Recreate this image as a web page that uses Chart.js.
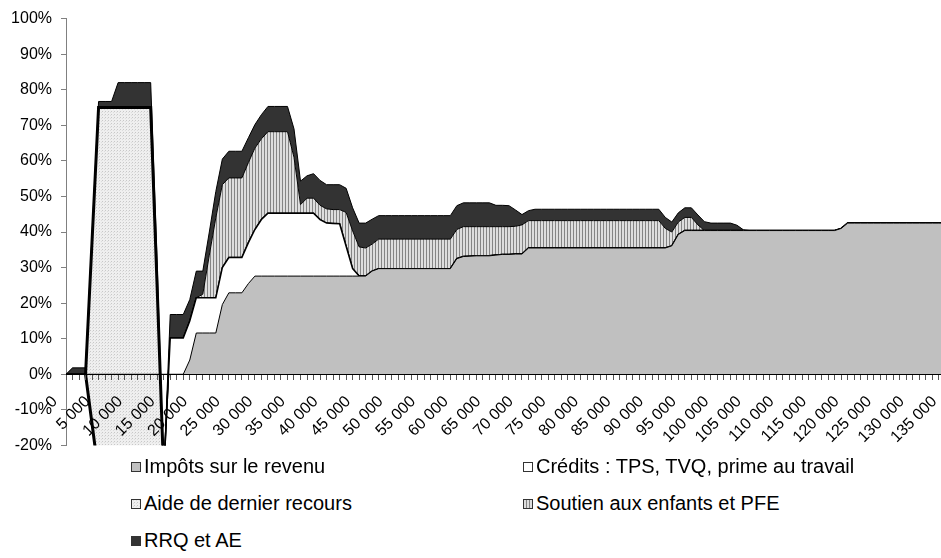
<!DOCTYPE html>
<html lang="fr">
<head>
<meta charset="utf-8">
<title>Taux marginaux effectifs selon le revenu</title>
<script src="https://cdn.jsdelivr.net/npm/chart.js"></script>
<style>
    html, body { margin: 0; padding: 0; background: #fff; }
    body {
        width: 941px; height: 558px; overflow: hidden; position: relative;
        font-family: "Liberation Sans", Arial, sans-serif;
    }
    #zone { position: absolute; left: 0; top: 0; width: 972px; height: 464px; }
    .leg {
        position: absolute; height: 20px; line-height: 20px; font-size: 20px;
        color: #000; white-space: nowrap; display: flex; align-items: center;
    }
    .leg canvas { width: 10px; height: 10px; margin-right: 3px; margin-top: 2px; display: block; }
</style>
</head>
<body>
<div id="zone"><canvas id="tauxChart" width="972" height="464"></canvas></div>
<div id="legende"></div>

<script>
// Revenu de travail (catégories, pas de 1 000 $)
const revenus = [
    0, 1000, 2000, 3000, 4000, 5000, 6000, 7000, 8000, 9000,
    10000, 11000, 12000, 13000, 14000, 15000, 16000, 17000, 18000, 19000,
    20000, 21000, 22000, 23000, 24000, 25000, 26000, 27000, 28000, 29000,
    30000, 31000, 32000, 33000, 34000, 35000, 36000, 37000, 38000, 39000,
    40000, 41000, 42000, 43000, 44000, 45000, 46000, 47000, 48000, 49000,
    50000, 51000, 52000, 53000, 54000, 55000, 56000, 57000, 58000, 59000,
    60000, 61000, 62000, 63000, 64000, 65000, 66000, 67000, 68000, 69000,
    70000, 71000, 72000, 73000, 74000, 75000, 76000, 77000, 78000, 79000,
    80000, 81000, 82000, 83000, 84000, 85000, 86000, 87000, 88000, 89000,
    90000, 91000, 92000, 93000, 94000, 95000, 96000, 97000, 98000, 99000,
    100000, 101000, 102000, 103000, 104000, 105000, 106000, 107000, 108000, 109000,
    110000, 111000, 112000, 113000, 114000, 115000, 116000, 117000, 118000, 119000,
    120000, 121000, 122000, 123000, 124000, 125000, 126000, 127000, 128000, 129000,
    130000, 131000, 132000, 133000, 134000, 135000,
];

// Taux marginaux (%) par composante
const impots = [
    0, 0, 0, 0, 0, 0, 0, 0, 0, 0,
    0, 0, 0, 0, 0, 0, 0, 0, 0, 4,
    11.6, 11.6, 11.6, 11.6, 19.6, 22.9, 22.9, 22.9, 25.5, 27.6,
    27.6, 27.6, 27.6, 27.6, 27.6, 27.6, 27.6, 27.6, 27.6, 27.6,
    27.6, 27.6, 27.6, 27.6, 27.6, 27.6, 27.6, 29, 29.7, 29.7,
    29.7, 29.7, 29.7, 29.7, 29.7, 29.7, 29.7, 29.7, 29.7, 29.7,
    32.5, 33.1, 33.2, 33.3, 33.3, 33.3, 33.5, 33.7, 33.7, 33.8,
    33.8, 35.5, 35.5, 35.5, 35.5, 35.5, 35.5, 35.5, 35.5, 35.5,
    35.5, 35.5, 35.5, 35.5, 35.5, 35.5, 35.5, 35.5, 35.5, 35.5,
    35.5, 35.5, 35.5, 36.1, 39.3, 40.4, 40.4, 40.4, 40.4, 40.4,
    40.4, 40.4, 40.4, 40.4, 40.4, 40.4, 40.4, 40.4, 40.4, 40.4,
    40.4, 40.4, 40.4, 40.4, 40.4, 40.4, 40.4, 40.4, 40.4, 41,
    42.5, 42.5, 42.5, 42.5, 42.5, 42.5, 42.5, 42.5, 42.5, 42.5,
    42.5, 42.5, 42.5, 42.5, 42.5, 42.5,
];

const credits = [
    0, 0, 0, 0, -14, -28, -28, -28, -28, -28,
    -28, -28, -28, -28, -28, -28, 10.2, 10.2, 10.2, 11,
    9.9, 9.9, 9.9, 9.9, 10.4, 9.9, 9.9, 9.9, 11.5, 13.1,
    15.9, 17.7, 17.7, 17.7, 17.7, 17.7, 17.7, 17.7, 17.7, 15.9,
    14.9, 14.8, 14.7, 8.4, 2.1, 0, 0, 0, 0, 0,
    0, 0, 0, 0, 0, 0, 0, 0, 0, 0,
    0, 0, 0, 0, 0, 0, 0, 0, 0, 0,
    0, 0, 0, 0, 0, 0, 0, 0, 0, 0,
    0, 0, 0, 0, 0, 0, 0, 0, 0, 0,
    0, 0, 0, 0, 0, 0, 0, 0, 0, 0,
    0, 0, 0, 0, 0, 0, 0, 0, 0, 0,
    0, 0, 0, 0, 0, 0, 0, 0, 0, 0,
    0, 0, 0, 0, 0, 0, 0, 0, 0, 0,
    0, 0, 0, 0, 0, 0,
];

const aide = [
    0, 0, 0, 0, 51.5, 103, 103, 103, 103, 103,
    103, 103, 103, 103, 52, 0, 0, 0, 0, 0,
    0, 0, 0, 0, 0, 0, 0, 0, 0, 0,
    0, 0, 0, 0, 0, 0, 0, 0, 0, 0,
    0, 0, 0, 0, 0, 0, 0, 0, 0, 0,
    0, 0, 0, 0, 0, 0, 0, 0, 0, 0,
    0, 0, 0, 0, 0, 0, 0, 0, 0, 0,
    0, 0, 0, 0, 0, 0, 0, 0, 0, 0,
    0, 0, 0, 0, 0, 0, 0, 0, 0, 0,
    0, 0, 0, 0, 0, 0, 0, 0, 0, 0,
    0, 0, 0, 0, 0, 0, 0, 0, 0, 0,
    0, 0, 0, 0, 0, 0, 0, 0, 0, 0,
    0, 0, 0, 0, 0, 0, 0, 0, 0, 0,
    0, 0, 0, 0, 0, 0,
];

const soutien = [
    0, 0, 0, 0, 0, 0, 0, 0, 0, 0,
    0, 0, 0, 0, 0, 0, 0, 0, 0, 0,
    0, 1, 12, 22.5, 23.3, 22.4, 22.4, 22.4, 22.5, 22.9,
    22.7, 22.9, 22.9, 22.9, 22.9, 15.7, 2.4, 4.2, 4.2, 4,
    4, 3.9, 4, 9.5, 10.6, 8.2, 7.9, 7.6, 8.3, 8.3,
    8.3, 8.3, 8.3, 8.3, 8.3, 8.3, 8.3, 8.3, 8.3, 8.3,
    8.2, 8.4, 8.3, 8.2, 8.2, 8.2, 8, 7.8, 7.8, 7.8,
    8.2, 7.7, 7.7, 7.7, 7.7, 7.7, 7.7, 7.7, 7.7, 7.7,
    7.7, 7.7, 7.7, 7.7, 7.7, 7.7, 7.7, 7.7, 7.7, 7.7,
    7.7, 7.7, 5.5, 3.9, 3.5, 3.7, 3.7, 1.6, 0, 0,
    0, 0, 0, 0, 0, 0, 0, 0, 0, 0,
    0, 0, 0, 0, 0, 0, 0, 0, 0, 0,
    0, 0, 0, 0, 0, 0, 0, 0, 0, 0,
    0, 0, 0, 0, 0, 0,
];

const rrq = [
    0, 1.8, 1.8, 1.8, 1.8, 1.7, 1.7, 1.7, 7, 7,
    7, 7, 7, 7, 7, 0, 6.6, 6.6, 6.6, 6,
    7.5, 6.5, 6.5, 7.4, 7.2, 7.5, 7.5, 7.5, 7, 6.6,
    6.8, 7.1, 7.1, 7.1, 7.1, 8, 6.6, 6.3, 6.9, 7,
    6.8, 7, 7, 6.8, 6.5, 6.7, 7, 7, 6.6, 6.6,
    6.6, 6.6, 6.6, 6.6, 6.6, 6.6, 6.6, 6.6, 6.6, 6.6,
    6.7, 6.7, 6.7, 6.7, 6.7, 6.7, 6, 6, 5.9, 4.6,
    2.9, 2.8, 3.2, 3.2, 3.2, 3.2, 3.2, 3.2, 3.2, 3.2,
    3.2, 3.2, 3.2, 3.2, 3.2, 3.2, 3.2, 3.2, 3.2, 3.2,
    3.2, 3.2, 3.1, 2.8, 2.6, 2.7, 2.7, 2.8, 2.5, 2.1,
    2.1, 2.1, 2.1, 1.5, 0.2, 0, 0, 0, 0, 0,
    0, 0, 0, 0, 0, 0, 0, 0, 0, 0,
    0, 0, 0, 0, 0, 0, 0, 0, 0, 0,
    0, 0, 0, 0, 0, 0,
];

const POLICE = '"Liberation Sans", Arial, sans-serif';
Chart.defaults.font.family = POLICE;

// "5000" -> "5 000"
function formatRevenu(v) {
    return String(v).replace(/\B(?=(\d{3})+(?!\d))/g, ' ');
}

// Petits motifs de remplissage façon Excel
function makePattern(w, h, fond, points) {
    const c = document.createElement('canvas');
    c.width = w;
    c.height = h;
    const g = c.getContext('2d');
    g.fillStyle = fond;
    g.fillRect(0, 0, w, h);
    points.forEach(([x, y, col]) => {
        g.fillStyle = col;
        g.fillRect(x, y, 1, 1);
    });
    return g.createPattern(c, 'repeat');
}

const motifAide = makePattern(3, 3, '#efefef', [[0, 0, '#c8c8c8'], [2, 1, '#dddddd']]);
const motifSoutien = makePattern(3, 1, '#dedede', [[0, 0, '#858585']]);

// Trait épais autour de la zone d'aide de dernier recours
const traitAide = (c) =>
    (aide[c.p0DataIndex] || aide[c.p1DataIndex]) ? 3 : undefined;

const ctx = document.getElementById('tauxChart').getContext('2d');
const chart = new Chart(ctx, {
    type: 'line',
    data: {
        labels: revenus,
        datasets: [
            {
                label: 'Impôts sur le revenu',
                data: impots,
                fill: 'origin',
                backgroundColor: '#c0c0c0',
                borderColor: '#000',
                borderWidth: 1,
            },
            {
                label: 'Crédits : TPS, TVQ, prime au travail',
                data: credits,
                fill: { target: '-1', above: '#ffffff', below: 'rgba(0,0,0,0)' },
                backgroundColor: '#ffffff',
                borderColor: '#000',
                borderWidth: 1.5,
                segment: { borderWidth: traitAide },
            },
            {
                label: 'Aide de dernier recours',
                data: aide,
                fill: '-1',
                backgroundColor: motifAide,
                borderColor: '#000',
                borderWidth: 1.5,
                segment: { borderWidth: traitAide },
            },
            {
                label: 'Soutien aux enfants et PFE',
                data: soutien,
                fill: '-1',
                backgroundColor: motifSoutien,
                borderColor: '#000',
                borderWidth: 1,
            },
            {
                label: 'RRQ et AE',
                data: rrq,
                fill: '-1',
                backgroundColor: '#333333',
                borderColor: '#000',
                borderWidth: 1,
            },
        ],
    },
    options: {
        responsive: false,
        animation: false,
        layout: { padding: { left: 0, top: 17.3, right: 20.4, bottom: 11.8 } },
        elements: { point: { radius: 0 }, line: { tension: 0 } },
        plugins: { legend: { display: false }, tooltip: { enabled: false } },
        scales: {
            x: {
                type: 'category',
                position: { y: 0 },
                // axe, graduations et étiquettes par-dessus les aires, comme dans Excel
                grid: { drawOnChartArea: false, tickLength: 5, color: '#555', z: 1 },
                border: { display: true, color: '#000', width: 1, z: 1 },
                ticks: {
                    z: 1,
                    autoSkip: false,
                    minRotation: 45,
                    maxRotation: 45,
                    padding: 13,
                    labelOffset: -11,
                    color: '#000',
                    font: { size: 16 },
                    callback: (v, i) => (i % 5 === 0 ? formatRevenu(revenus[i]) : ''),
                },
            },
            y: {
                min: -20,
                max: 100,
                stacked: 'single',
                afterFit: (s) => { s.width = 66; },
                grid: { drawOnChartArea: false, tickLength: 5, color: '#808080' },
                border: { display: true, color: '#808080' },
                ticks: {
                    stepSize: 10,
                    padding: 9,
                    color: '#000',
                    font: { size: 16 },
                    callback: (v) => v + '%',
                },
            },
        },
    },
});

// Légende HTML sur deux colonnes
const colonnesLegende = [131, 523];
const lignesLegende = [456, 493, 530];
const legende = document.getElementById('legende');
chart.data.datasets.forEach((ds, i) => {
    const item = document.createElement('div');
    item.className = 'leg';
    item.style.left = colonnesLegende[i % 2] + 'px';
    item.style.top = lignesLegende[Math.floor(i / 2)] + 'px';

    const pastille = document.createElement('canvas');
    pastille.width = 10;
    pastille.height = 10;
    const g = pastille.getContext('2d');
    g.fillStyle = ds.backgroundColor;
    g.fillRect(0, 0, 10, 10);
    g.strokeStyle = '#333';
    g.lineWidth = 1;
    g.strokeRect(0.5, 0.5, 9, 9);

    const texte = document.createElement('span');
    texte.textContent = ds.label;

    item.appendChild(pastille);
    item.appendChild(texte);
    legende.appendChild(item);
});
</script>
</body>
</html>
